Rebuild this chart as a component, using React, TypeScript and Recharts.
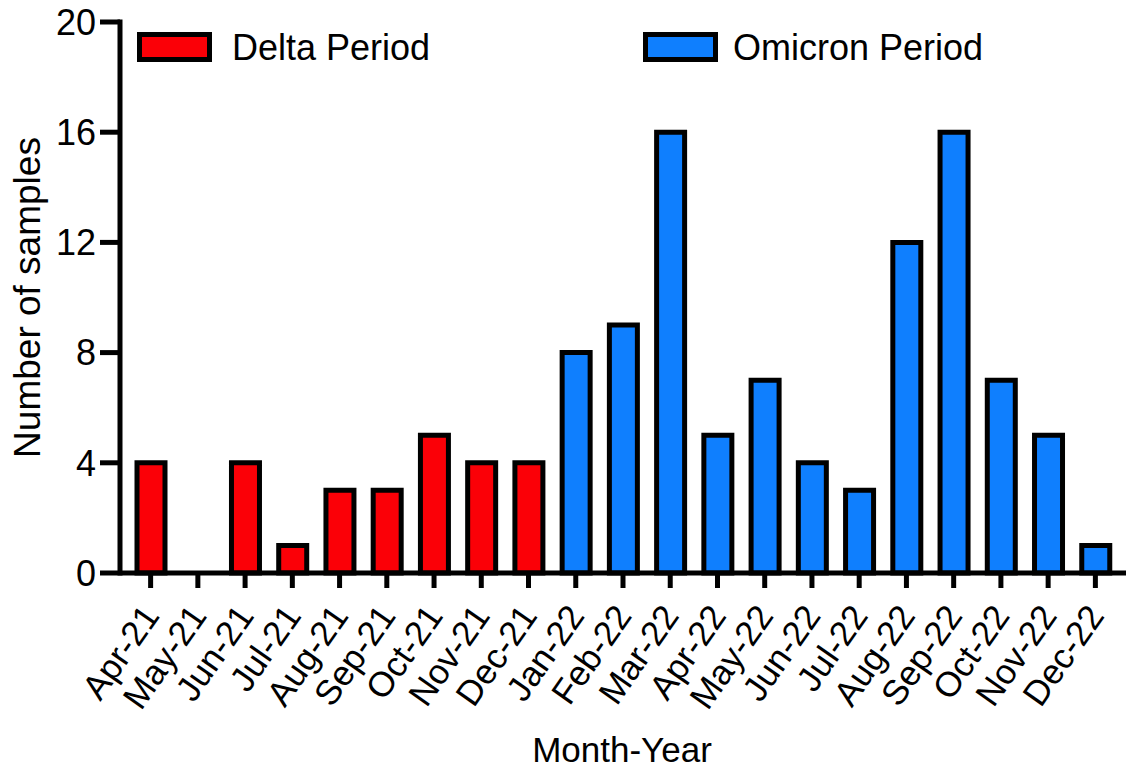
import React from 'react';
import { BarChart, Bar, XAxis, YAxis, Legend, Label } from 'recharts';

const months = [
  'Apr-21', 'May-21', 'Jun-21', 'Jul-21', 'Aug-21', 'Sep-21', 'Oct-21', 'Nov-21', 'Dec-21',
  'Jan-22', 'Feb-22', 'Mar-22', 'Apr-22', 'May-22', 'Jun-22', 'Jul-22', 'Aug-22', 'Sep-22',
  'Oct-22', 'Nov-22', 'Dec-22',
];
const deltaMonths = ['Apr-21', 'May-21', 'Jun-21', 'Jul-21', 'Aug-21', 'Sep-21', 'Oct-21', 'Nov-21', 'Dec-21'];
const deltaCounts = [4, 0, 4, 1, 3, 3, 5, 4, 4];
const omicronMonths = ['Jan-22', 'Feb-22', 'Mar-22', 'Apr-22', 'May-22', 'Jun-22', 'Jul-22', 'Aug-22', 'Sep-22', 'Oct-22', 'Nov-22', 'Dec-22'];
const omicronCounts = [8, 9, 16, 5, 7, 4, 3, 12, 16, 7, 5, 1];
const yTicks = [0, 4, 8, 12, 16, 20];

const DELTA_COLOR = '#FB0007';
const OMICRON_COLOR = '#0F7FFE';
const FONT = '"Liberation Sans", Arial, Helvetica, sans-serif';

const data = months.map((m) => {
  const di = deltaMonths.indexOf(m);
  const oi = omicronMonths.indexOf(m);
  return {
    month: m,
    delta: di >= 0 ? deltaCounts[di] : null,
    omicron: oi >= 0 ? omicronCounts[oi] : null,
  };
});

const XTick = (props: any) => {
  const { x, y, payload } = props;
  const ax = x + 10;
  const ay = y + 26;
  return (
    <text
      x={ax}
      y={ay}
      textAnchor="end"
      fontSize={35}
      fontFamily={FONT}
      fill="#000"
      transform={`rotate(-55 ${ax} ${ay})`}
    >
      {payload.value}
    </text>
  );
};

const legendPos = [
  { box: 137, text: 232 },
  { box: 643, text: 733 },
];

const LegendContent = (props: any) => {
  const payload = props.payload || [];
  return (
    <div style={{ position: 'relative', width: 1126, height: 0 }}>
      {payload.map((entry: any, i: number) => (
        <React.Fragment key={i}>
          <div
            style={{
              position: 'absolute',
              left: legendPos[i].box,
              top: 32,
              width: 75,
              height: 30,
              boxSizing: 'border-box',
              border: '5px solid #000',
              background: entry.color,
            }}
          />
          <div
            style={{
              position: 'absolute',
              left: legendPos[i].text,
              top: 48 - 20,
              height: 40,
              lineHeight: '40px',
              fontSize: 36,
              fontFamily: FONT,
              color: '#000',
              whiteSpace: 'nowrap',
            }}
          >
            {entry.value}
          </div>
        </React.Fragment>
      ))}
    </div>
  );
};

export default function App() {
  return (
    <div style={{ position: 'absolute', left: 0, top: 0, background: '#fff' }}>
      <BarChart
        width={1126}
        height={771}
        data={data}
        margin={{ top: 22, right: 0, left: 0, bottom: 0 }}
        barSize={28}
      >
        <XAxis
          dataKey="month"
          interval={0}
          height={198}
          tick={<XTick />}
          tickSize={15}
          axisLine={{ stroke: '#000', strokeWidth: 5 }}
          tickLine={{ stroke: '#000', strokeWidth: 5 }}
          padding={{ left: 7, right: 7 }}
        >
          <Label
            content={() => {
              const cx = 622;
              return (
                <text x={cx} y={762} textAnchor="middle" fontSize={35} fontFamily={FONT} fill="#000">
                  Month-Year
                </text>
              );
            }}
          />
        </XAxis>
        <YAxis
          domain={[0, 20]}
          ticks={yTicks}
          interval={0}
          width={120}
          tickSize={20}
          tickMargin={4}
          tick={{ fill: '#000', fontSize: 36, fontFamily: FONT }}
          axisLine={{ stroke: '#000', strokeWidth: 5, strokeLinecap: 'square' }}
          tickLine={{ stroke: '#000', strokeWidth: 5 }}
        >
          <Label
            content={(p: any) => {
              const vb = p.viewBox;
              const cx = 40;
              const cy = vb.y + vb.height / 2;
              return (
                <text
                  x={cx}
                  y={cy}
                  textAnchor="middle"
                  fontSize={37}
                  fontFamily={FONT}
                  fill="#000"
                  transform={`rotate(-90 ${cx} ${cy})`}
                >
                  Number of samples
                </text>
              );
            }}
          />
        </YAxis>
        <Legend
          verticalAlign="top"
          content={<LegendContent />}
          wrapperStyle={{ position: 'absolute', left: 0, top: 0, width: 1126, height: 0, overflow: 'visible' }}
        />
        <Bar
          dataKey="delta"
          name="Delta Period"
          stackId="a"
          fill={DELTA_COLOR}
          stroke="#000"
          strokeWidth={5}
          isAnimationActive={false}
        />
        <Bar
          dataKey="omicron"
          name="Omicron Period"
          stackId="a"
          fill={OMICRON_COLOR}
          stroke="#000"
          strokeWidth={5}
          isAnimationActive={false}
        />
      </BarChart>
    </div>
  );
}
